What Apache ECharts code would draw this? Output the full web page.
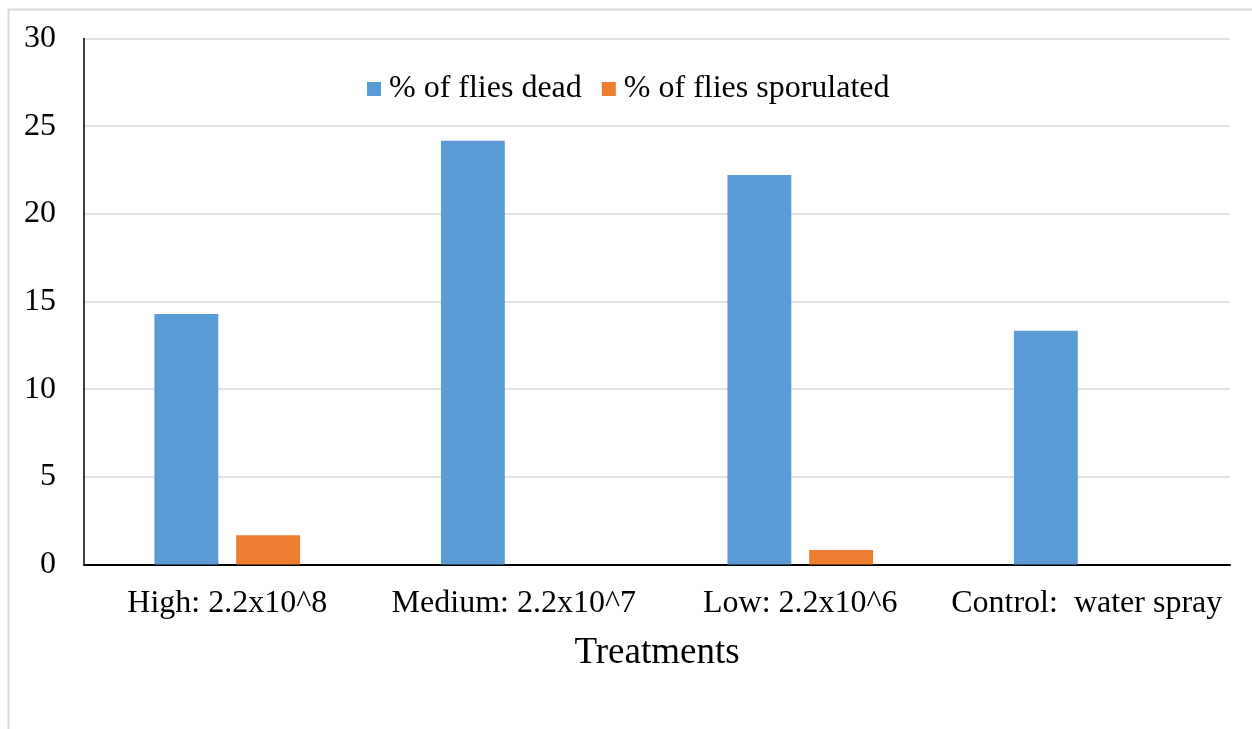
<!DOCTYPE html>
<html>
<head>
<meta charset="utf-8">
<script src="https://cdn.jsdelivr.net/npm/echarts@6/dist/echarts.min.js"></script>
<style>
  html, body { margin: 0; padding: 0; background: #fff; }
  #chart { width: 1252px; height: 729px; }
</style>
</head>
<body>
<div id="chart"></div>
<script>
// Fly mortality and sporulation by spore concentration
const categories = ['High: 2.2x10^8', 'Medium: 2.2x10^7', 'Low: 2.2x10^6', 'Control:  water spray'];
const seriesNames = ['% of flies dead', '% of flies sporulated'];
const fliesDead = [14.29, 24.17, 22.22, 13.33];
const fliesSporulated = [1.67, 0, 0.83, 0];
const yTicks = { min: 0, max: 30, interval: 5 };

const serif = '"Liberation Serif", "Times New Roman", serif';

const chart = echarts.init(document.getElementById('chart'), null, { renderer: 'canvas' });
chart.setOption({
  animation: false,
  backgroundColor: '#ffffff',
  graphic: [{
    type: 'rect',
    left: 6, top: 7,
    shape: { x: 0, y: 0, width: 1400, height: 900 },
    style: { fill: 'none', stroke: '#d9d9d9', lineWidth: 2 },
    silent: true,
    z: -10
  }],
  legend: {
    data: seriesNames,
    left: 362,
    top: 68,
    icon: 'rect',
    itemWidth: 14,
    itemHeight: 14,
    itemGap: 20,
    textStyle: { fontFamily: serif, fontSize: 32, color: '#000', padding: [0, 0, 0, 3] }
  },
  grid: { left: 84, right: 22, top: 38.5, bottom: 164.5, containLabel: false },
  xAxis: {
    type: 'category',
    data: categories,
    name: 'Treatments',
    nameLocation: 'middle',
    nameGap: 70,
    nameTextStyle: { fontFamily: serif, fontSize: 37, color: '#000' },
    axisLine: { lineStyle: { color: '#000', width: 2 } },
    axisTick: { show: false },
    axisLabel: { fontFamily: serif, fontSize: 32, color: '#000', margin: 23, interval: 0 }
  },
  yAxis: {
    type: 'value',
    min: yTicks.min,
    max: yTicks.max,
    interval: yTicks.interval,
    axisLine: { show: true, lineStyle: { color: '#000', width: 1.5 } },
    axisTick: { show: false },
    axisLabel: { fontFamily: serif, fontSize: 32, color: '#000', margin: 28 },
    splitLine: { lineStyle: { color: '#d9d9d9', width: 1.5 } }
  },
  series: [
    {
      name: seriesNames[0],
      type: 'bar',
      data: fliesDead,
      barWidth: '22.3%',
      barGap: '28%',
      itemStyle: { color: '#5B9BD5' }
    },
    {
      name: seriesNames[1],
      type: 'bar',
      data: fliesSporulated,
      barWidth: '22.3%',
      itemStyle: { color: '#ED7D31' }
    }
  ]
});
</script>
</body>
</html>
